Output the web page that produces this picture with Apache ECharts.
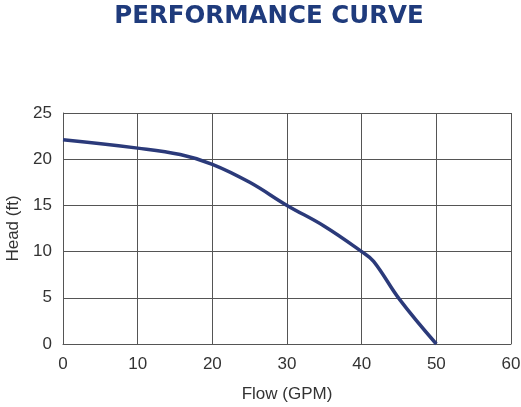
<!DOCTYPE html>
<html>
<head>
<meta charset="utf-8">
<script src="https://cdn.jsdelivr.net/npm/echarts@6/dist/echarts.min.js"></script>
<style>html,body{margin:0;padding:0;background:#fff;}#c{width:521px;height:407px;}</style>
</head>
<body>
<div id="c"></div>
<script>
const flow = [0, 10, 15.7, 20, 25, 30, 35, 40, 41.6, 45.1, 50];
const head = [22.1, 21.2, 20.5, 19.45, 17.5, 15, 12.75, 10, 8.95, 4.8, 0];
const xTicks = [0, 10, 20, 30, 40, 50, 60];
const yTicks = [0, 5, 10, 15, 20, 25];
const titleText = 'PERFORMANCE CURVE';
const xName = 'Flow (GPM)';
const yName = 'Head (ft)';

const chart = echarts.init(document.getElementById('c'), null, {renderer: 'canvas'});
chart.setOption({
  animation: false,
  backgroundColor: '#ffffff',
  title: {
    text: titleText,
    left: 264, top: -1, textAlign: 'center',
    textStyle: {fontFamily: 'DejaVu Sans', fontWeight: 'bold', fontSize: 24.5, color: '#1f3b7c'}
  },
  grid: {left: 63, right: 10, top: 113, bottom: 63, containLabel: false, outerBoundsMode: 'none'},
  xAxis: {
    type: 'value', min: 0, max: 60, interval: 10,
    name: xName, nameLocation: 'middle', nameGap: 42,
    nameTextStyle: {fontFamily: 'Liberation Sans', fontSize: 17, color: '#333'},
    axisLine: {show: true, lineStyle: {color: '#555', width: 1}},
    axisTick: {show: false},
    axisLabel: {fontFamily: 'Liberation Sans', fontSize: 17, color: '#333', margin: 12,
      formatter: v => xTicks.includes(v) ? String(v) : ''},
    splitLine: {show: true, lineStyle: {color: '#555', width: 1}}
  },
  yAxis: {
    type: 'value', min: 0, max: 25, interval: 5,
    name: yName, nameLocation: 'middle', nameGap: 40,
    nameTextStyle: {fontFamily: 'Liberation Sans', fontSize: 17, color: '#333'},
    axisLine: {show: true, lineStyle: {color: '#555', width: 1}},
    axisTick: {show: false},
    axisLabel: {fontFamily: 'Liberation Sans', fontSize: 17, color: '#333', margin: 11,
      formatter: v => yTicks.includes(v) ? String(v) : ''},
    splitLine: {show: true, lineStyle: {color: '#555', width: 1}}
  },
  series: [{
    type: 'line',
    data: flow.map((f, i) => [f, head[i]]),
    smooth: 0.4,
    symbol: 'none',
    lineStyle: {color: '#2b3a7a', width: 3.5},
    clip: false
  }]
});
</script>
</body>
</html>
